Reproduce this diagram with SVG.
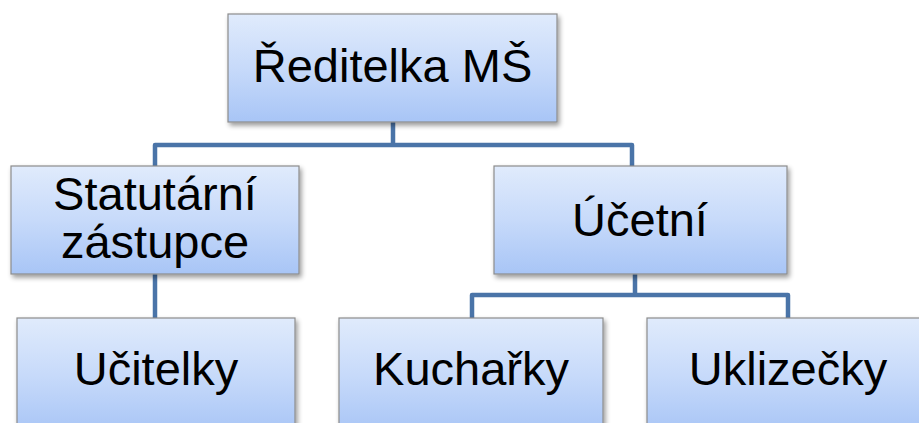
<svg xmlns="http://www.w3.org/2000/svg" width="919" height="423" viewBox="0 0 919 423">
<defs>
<linearGradient id="g" x1="0" y1="0" x2="0" y2="1">
<stop offset="0" stop-color="#e0ebfc"/>
<stop offset="0.5" stop-color="#c7dafa"/>
<stop offset="1" stop-color="#a8c5f6"/>
</linearGradient>
<filter id="sh" x="-10%" y="-10%" width="130%" height="130%">
<feGaussianBlur in="SourceAlpha" stdDeviation="2.5"/>
<feOffset dx="2" dy="3" result="b"/>
<feComponentTransfer><feFuncA type="linear" slope="0.4"/></feComponentTransfer>
<feMerge><feMergeNode/><feMergeNode in="SourceGraphic"/></feMerge>
</filter>
</defs>
<style>
.box{fill:url(#g);stroke:#8c8c8c;stroke-width:1.2;filter:url(#sh)}
.t{font-family:"Liberation Sans",Arial,sans-serif;font-size:47px;fill:#000;text-anchor:middle}
.c{fill:none;stroke:#4a74a8;stroke-width:4.5;stroke-linejoin:round}
</style>
<rect width="919" height="423" fill="#fff"/>
<g id="connectors">
<path class="c" d="M393 122 V143 M155 166 V145 H632 V166"/>
<path class="c" d="M155 274 V318"/>
<path class="c" d="M635 274 V295 M472 318 V295 H788 V318"/>
</g>
<g id="reditelka"><rect class="box" x="228" y="14" width="329" height="108"/><text class="t" x="392.5" y="82">Ředitelka MŠ</text></g>
<g id="statutarni"><rect class="box" x="11" y="166" width="288" height="108"/><text class="t" x="155" y="210">Statutární</text><text class="t" x="155" y="258">zástupce</text></g>
<g id="ucetni"><rect class="box" x="494" y="166" width="293" height="108"/><text class="t" x="640" y="236">Účetní</text></g>
<g id="ucitelky"><rect class="box" x="17" y="318" width="278" height="115"/><text class="t" x="156" y="385">Učitelky</text></g>
<g id="kucharky"><rect class="box" x="339" y="318" width="264" height="115"/><text class="t" x="471" y="385">Kuchařky</text></g>
<g id="uklizecky"><rect class="box" x="647" y="318" width="290" height="115"/><text class="t" x="788" y="385">Uklizečky</text></g>
</svg>
